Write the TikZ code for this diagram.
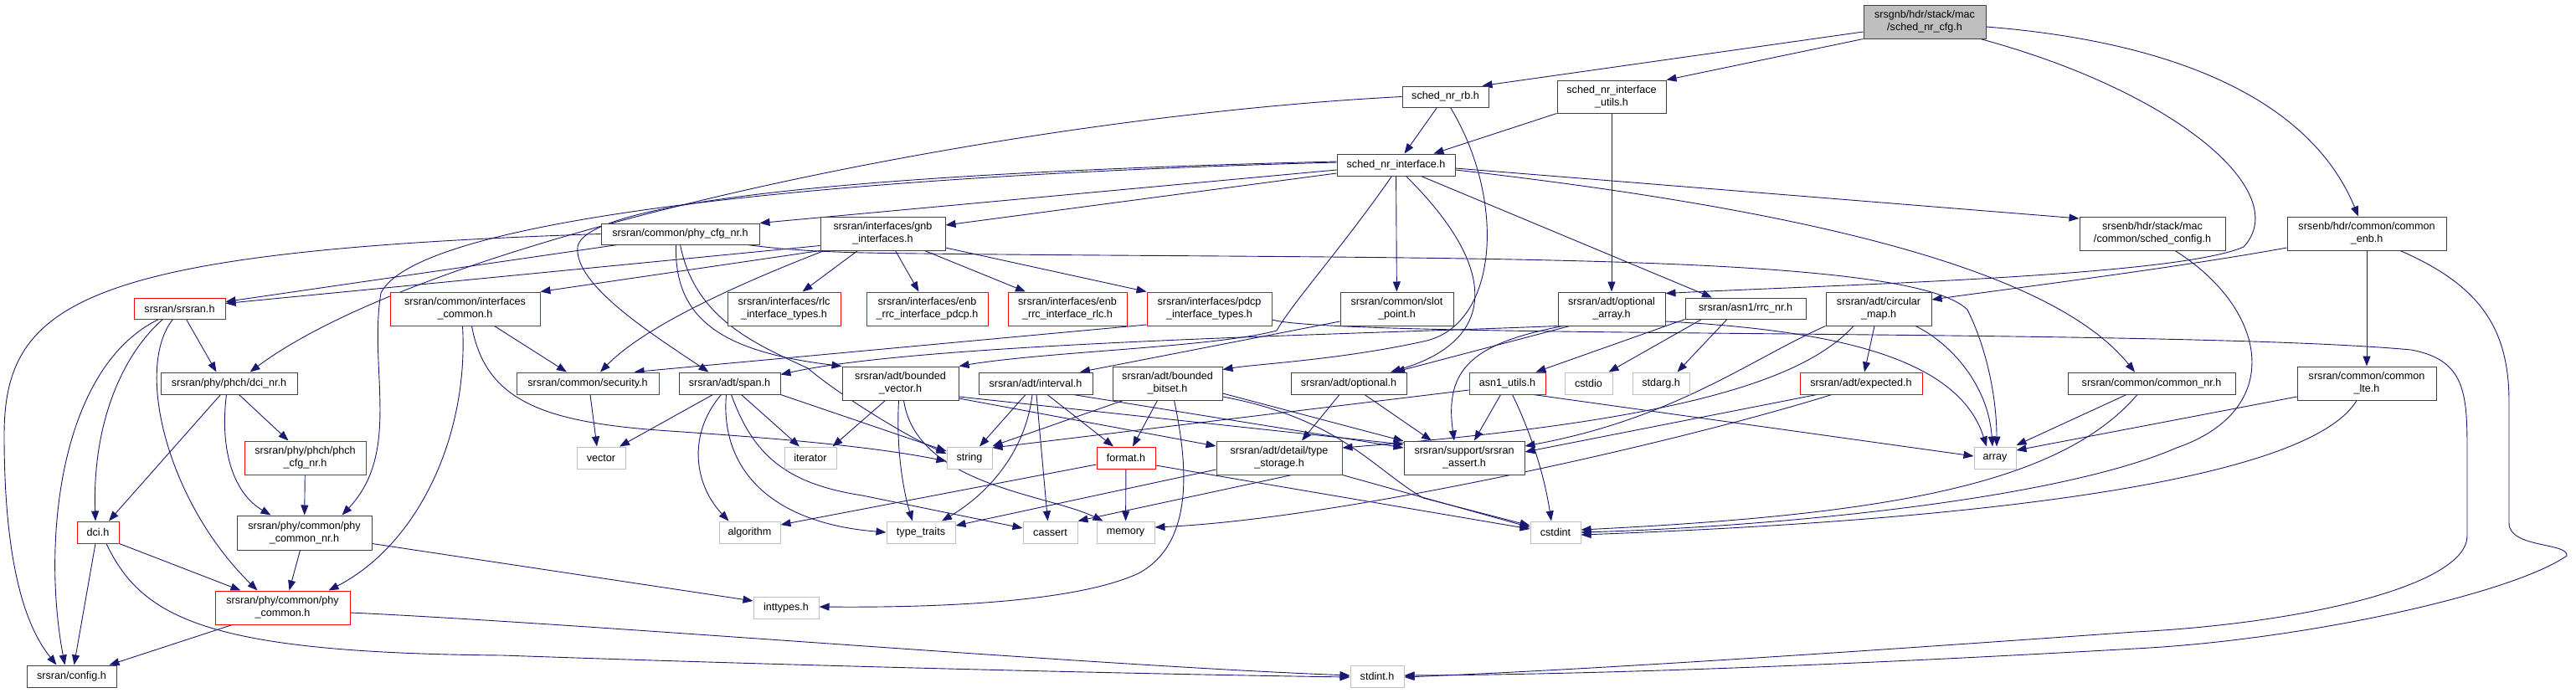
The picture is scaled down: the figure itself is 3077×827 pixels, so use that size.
\documentclass[tikz,border=0pt]{standalone}
\usepackage{fontspec}
\setmainfont{Liberation Sans}
\usepackage{tikz}
\usetikzlibrary{arrows.meta,backgrounds}
\definecolor{edgec}{HTML}{191970}
\definecolor{boxc}{HTML}{404040}
\definecolor{truncc}{HTML}{FF0000}
\definecolor{sysc}{HTML}{BFBFBF}
\tikzset{
  ed/.style={-{Triangle[length=12pt,width=9pt]},line width=0.9pt,edgec},
  hd/.style={draw=boxc,line width=1pt,fill=white,align=center,inner sep=0pt,font=\fontsize{12.6}{15}\selectfont},
  hdt/.style={hd,draw=truncc},
  sy/.style={hd,draw=sysc},
  rt/.style={hd,fill=sysc},
  sz/.style 2 args={minimum width=#1,minimum height=#2}
}

\begin{document}
\begin{tikzpicture}[x=1pt,y=-1pt]
\useasboundingbox (0,0) rectangle (3077,827);
% nodes
\node[rt,sz={146}{40}] (root) at (2299,26) {srsgnb/hdr/stack/mac\\/sched\_nr\_cfg.h};
\node[hd,sz={103}{25}] (rb) at (1726.5,115.5) {sched\_nr\_rb.h};
\node[hd,sz={130}{39}] (utils) at (1925,115.5) {sched\_nr\_interface\\\_utils.h};
\node[hd,sz={141}{26}] (snri) at (1667.5,197) {sched\_nr\_interface.h};
\node[hd,sz={189}{25}] (phycfg) at (812.5,279.5) {srsran/common/phy\_cfg\_nr.h};
\node[hd,sz={149}{40}] (gnb) at (1054.5,279) {srsran/interfaces/gnb\\\_interfaces.h};
\node[hd,sz={174}{40}] (schedcfg) at (2571,279) {srsenb/hdr/stack/mac\\/common/sched\_config.h};
\node[hd,sz={190}{40}] (comenb) at (2827,279) {srsenb/hdr/common/common\\\_enb.h};
\node[hdt,sz={109}{25}] (srsranh) at (214.5,368.5) {srsran/srsran.h};
\node[hdt,sz={179}{40}] (ifcommon) at (555.5,369) {srsran/common/interfaces\\\_common.h};
\node[hdt,sz={135}{40}] (rlc) at (936.5,369) {srsran/interfaces/rlc\\\_interface\_types.h};
\node[hdt,sz={145}{40}] (enbpdcp) at (1107.5,369) {srsran/interfaces/enb\\\_rrc\_interface\_pdcp.h};
\node[hdt,sz={142}{40}] (enbrlc) at (1275,369) {srsran/interfaces/enb\\\_rrc\_interface\_rlc.h};
\node[hdt,sz={149}{40}] (pdcp) at (1444.5,369) {srsran/interfaces/pdcp\\\_interface\_types.h};
\node[hd,sz={135}{40}] (slot) at (1668.5,369) {srsran/common/slot\\\_point.h};
\node[hd,sz={128}{40}] (optarr) at (1925,369) {srsran/adt/optional\\\_array.h};
\node[hd,sz={144}{25}] (rrcnr) at (2085,368.5) {srsran/asn1/rrc\_nr.h};
\node[hd,sz={126}{40}] (circ) at (2244,369) {srsran/adt/circular\\\_map.h};
\node[hd,sz={163}{26}] (dcinr) at (273.5,458) {srsran/phy/phch/dci\_nr.h};
\node[hdt,sz={170}{26}] (security) at (702,458) {srsran/common/security.h};
\node[hd,sz={121}{26}] (span) at (871.5,458) {srsran/adt/span.h};
\node[hd,sz={139}{40}] (bvec) at (1075.5,458) {srsran/adt/bounded\\\_vector.h};
\node[hd,sz={136}{26}] (interval) at (1237,458) {srsran/adt/interval.h};
\node[hd,sz={131}{40}] (bbitset) at (1394.5,458) {srsran/adt/bounded\\\_bitset.h};
\node[hd,sz={138}{26}] (optional) at (1611,458) {srsran/adt/optional.h};
\node[hdt,sz={91}{26}] (asn1) at (1800.5,458) {asn1\_utils.h};
\node[sy,sz={57}{26}] (cstdio) at (1897.5,458) {cstdio};
\node[sy,sz={68}{26}] (stdarg) at (1984,458) {stdarg.h};
\node[hdt,sz={146}{26}] (expected) at (2223,458) {srsran/adt/expected.h};
\node[hd,sz={200}{26}] (comnr) at (2570,458) {srsran/common/common\_nr.h};
\node[hd,sz={166}{40}] (comlte) at (2827,458) {srsran/common/common\\\_lte.h};
\node[hdt,sz={145}{40}] (phchcfg) at (364.5,547) {srsran/phy/phch/phch\\\_cfg\_nr.h};
\node[sy,sz={58}{26}] (vector) at (718,547) {vector};
\node[sy,sz={62}{26}] (iterator) at (968,547) {iterator};
\node[sy,sz={54}{26}] (string) at (1158,547) {string};
\node[hdt,sz={70}{26}] (format) at (1345,547) {format.h};
\node[hdt,sz={150}{40}] (tstorage) at (1528,547) {srsran/adt/detail/type\\\_storage.h};
\node[hd,sz={144}{40}] (assert) at (1749,547) {srsran/support/srsran\\\_assert.h};
\node[sy,sz={50}{26}] (array) at (2383,547) {array};
\node[hdt,sz={50}{26}] (dci) at (117,636) {dci.h};
\node[hd,sz={161}{41}] (phycomnr) at (363.5,636.5) {srsran/phy/common/phy\\\_common\_nr.h};
\node[sy,sz={73}{26}] (algorithm) at (895.5,636) {algorithm};
\node[sy,sz={82}{26}] (typetraits) at (1100,636) {type\_traits};
\node[sy,sz={65}{26}] (cassert) at (1254.5,636) {cassert};
\node[sy,sz={69}{26}] (memory) at (1344.5,636) {memory};
\node[sy,sz={60}{26}] (cstdint) at (1858,636) {cstdint};
\node[hdt,sz={161}{40}] (phycom) at (337.5,726) {srsran/phy/common/phy\\\_common.h};
\node[sy,sz={78}{26}] (inttypes) at (939,726) {inttypes.h};
\node[hd,sz={107}{26}] (config) at (85.5,808) {srsran/config.h};
\node[sy,sz={64}{26}] (stdinth) at (1645,808) {stdint.h};
% edges
\begin{scope}[on background layer]
\draw[ed] ([yshift=-12pt]root.west) -- ([xshift=-8pt]rb.north east);
\draw[ed] (root.south west) -- (utils.north east);
\draw[ed] ([yshift=-6pt]root.east) .. controls (2600,50) and (2760,120) .. ([xshift=-10pt]comenb.north);
\draw[ed] ([xshift=-7pt]root.south east) .. controls (2600,110) and (2740,230) .. (2680,295) .. controls (2600,330) and (2200,340) .. ([yshift=-2pt]optarr.north east);
\draw[ed] (utils.south west) -- ([xshift=45pt]snri.north);
\draw[ed] (utils) -- (optarr);
\draw[ed] ([xshift=-10pt]rb.south) -- ([xshift=10pt]snri.north);
\draw[ed] ([xshift=6pt]rb.south) .. controls (1800,240) and (1790,390) .. (1700,408) .. controls (1600,430) and (1500,435) .. ([yshift=-4pt]bbitset.north east);
\draw[ed] (rb.west) .. controls (1200,140) and (520,280) .. ([xshift=25pt]dcinr.north);
\draw[ed] ([yshift=-6pt]snri.west) -- (phycfg.north east);
\draw[ed] ([yshift=-10pt]snri.west) -- ([yshift=10pt]gnb.east);
\draw[ed] ([yshift=-4pt]snri.east) -- ([yshift=18pt]schedcfg.west);
\draw[ed] ([yshift=-6pt]snri.east) .. controls (2150,250) and (2450,320) .. ([xshift=-20pt]comnr.north);
\draw[ed] (snri) -- (slot);
\draw[ed] ([xshift=30pt]snri.south) -- ([xshift=-40pt]rrcnr.north);
\draw[ed] ([xshift=12pt]snri.south) .. controls (1800,330) and (1780,410) .. ([xshift=50pt]optional.north);
\draw[ed] ([yshift=4pt]snri.west) .. controls (1100,205) and (700,235) .. (690,295) .. controls (685,340) and (780,400) .. ([xshift=-25pt]span.north);
\draw[ed] ([xshift=-5pt]snri.south) .. controls (1600,300) and (1545,360) .. (1525,395) .. controls (1450,415) and (1250,420) .. (bvec.north east);
\draw[ed] ([yshift=3pt]snri.west) .. controls (1000,210) and (500,260) .. (455,350) .. controls (440,440) and (480,540) .. ([xshift=45pt]phycomnr.north);
\draw[ed] ([xshift=-75pt]phycfg.south) -- ([yshift=8pt]srsranh.east);
\draw[ed] (phycfg.west) .. controls (100,300) and (5,360) .. (5,520) .. controls (5,700) and (40,760) .. ([xshift=-18pt]config.north);
\draw[ed] ([xshift=-5pt]phycfg.south) .. controls (805,380) and (860,420) .. (bvec.north west);
\draw[ed] (phycfg.south) .. controls (830,380) and (900,410) .. (965,440) .. controls (1000,470) and (1080,520) .. ([yshift=5pt]string.west);
\draw[ed] ([xshift=-15pt]phycfg.south east) .. controls (950,300) and (1000,302) .. (1100,303) .. controls (1700,310) and (2280,300) .. (2350,370) .. controls (2375,420) and (2385,480) .. ([xshift=2pt]array.north);
\draw[ed] ([yshift=6pt]gnb.south west) -- ([yshift=6pt]srsranh.east);
\draw[ed] (gnb.south west) -- (ifcommon.north east);
\draw[ed] ([xshift=-30pt]gnb.south) -- ([xshift=22pt]rlc.north);
\draw[ed] ([xshift=15pt]gnb.south) -- ([xshift=-10pt]enbpdcp.north);
\draw[ed] ([xshift=50pt]gnb.south) -- ([xshift=-50pt]enbrlc.north);
\draw[ed] ([yshift=-17pt]gnb.east) -- (pdcp.north west);
\draw[ed] ([xshift=5pt]gnb.south west) .. controls (880,340) and (770,390) .. ([xshift=15pt]security.north);
\draw[ed] ([xshift=8pt]srsranh.south) -- ([xshift=-15pt]dcinr.north);
\draw[ed] ([xshift=-20pt]srsranh.south) .. controls (150,420) and (110,500) .. ([xshift=-3pt]dci.north);
\draw[ed] ([xshift=-25pt]srsranh.south) .. controls (70,440) and (50,650) .. ([xshift=-8pt]config.north);
\draw[ed] ([xshift=-8pt]srsranh.south) .. controls (160,440) and (200,600) .. ([xshift=-30pt]phycom.north);
\draw[ed] ([xshift=-10pt]dcinr.south) -- ([xshift=13pt]dci.north);
\draw[ed] ([xshift=12pt]dcinr.south) -- ([xshift=-20pt]phchcfg.north);
\draw[ed] ([xshift=-3pt]dcinr.south) .. controls (262,540) and (280,590) .. ([xshift=-40pt]phycomnr.north);
\draw[ed] (phchcfg) -- (phycomnr);
\draw[ed] (dci.south east) -- ([xshift=-50pt]phycom.north);
\draw[ed] ([xshift=-3pt]dci.south) -- ([xshift=3pt]config.north);
\draw[ed] ([xshift=10pt]dci.south) .. controls (170,740) and (250,780) .. (600,783) .. controls (1000,797) and (1400,806) .. ([yshift=-1pt]stdinth.west);
\draw[ed] ([xshift=-5pt]phycomnr.south) -- ([xshift=8pt]phycom.north);
\draw[ed] ([yshift=-13pt]phycomnr.east) -- ([yshift=8pt]inttypes.west);
\draw[ed] ([xshift=-60pt]phycom.south) -- ([xshift=45pt]config.north);
\draw[ed] ([yshift=-6pt]phycom.east) .. controls (700,745) and (1300,795) .. ([yshift=1pt]stdinth.west);
\draw[ed] ([xshift=3pt]security.south) -- ([xshift=-5pt]vector.north);
\draw[ed] ([xshift=35pt]ifcommon.south) -- ([xshift=-25pt]security.north);
\draw[ed] ([xshift=-3pt]ifcommon.south) .. controls (560,520) and (500,650) .. ([xshift=55pt]phycom.north);
\draw[ed] ([xshift=8pt]ifcommon.south) .. controls (580,480) and (650,505) .. (800,515) .. controls (950,525) and (1050,535) .. ([yshift=-4pt]string.west);
\draw[ed] ([yshift=-19pt]pdcp.west) -- ([xshift=-30pt]security.north east);
\draw[ed] ([yshift=-13pt]pdcp.east) .. controls (1600,405) and (2600,392) .. (2880,418) .. controls (2945,430) and (2947,470) .. (2947,540) -- (2947,640) .. controls (2947,700) and (2750,745) .. (2550,755) .. controls (2200,780) and (1900,800) .. ([yshift=-1pt]stdinth.east);
\draw[ed] ([yshift=-15pt]slot.west) -- ([xshift=53pt]interval.north);
\draw[ed] ([xshift=-50pt]optarr.south) -- ([xshift=55pt]optional.north);
\draw[ed] ([xshift=-58pt]optarr.south) .. controls (1760,410) and (1725,440) .. ([xshift=-12pt]assert.north);
\draw[ed] (optarr.south west) .. controls (1600,400) and (1100,410) .. ([yshift=-3pt]span.north east);
\draw[ed] ([yshift=-15pt]optarr.east) .. controls (2200,395) and (2340,430) .. ([xshift=-10pt]array.north);
\draw[ed] (rrcnr.south west) -- ([xshift=-12pt]asn1.north east);
\draw[ed] ([xshift=20pt]rrcnr.south west) -- ([xshift=-5pt]cstdio.north east);
\draw[ed] ([xshift=-22pt]rrcnr.south) -- ([xshift=-15pt]stdarg.north east);
\draw[ed] ([xshift=-8pt]asn1.south) -- ([xshift=12pt]assert.north);
\draw[ed] ([xshift=6pt]asn1.south) .. controls (1830,520) and (1845,570) .. ([xshift=-5pt]cstdint.north);
\draw[ed] ([xshift=-15pt]asn1.south east) -- ([yshift=2pt]array.west);
\draw[ed] ([yshift=-8pt]asn1.west) -- ([yshift=12pt]string.east);
\draw[ed] ([xshift=-5pt]circ.south) -- ([xshift=4pt]expected.north);
\draw[ed] (circ.south west) .. controls (2090,430) and (2000,500) .. ([yshift=14pt]assert.east);
\draw[ed] ([xshift=-30pt]circ.south) .. controls (2150,460) and (1980,505) .. ([yshift=12pt]tstorage.east);
\draw[ed] ([xshift=44pt]circ.south) .. controls (2330,410) and (2375,460) .. ([xshift=-3pt]array.north);
\draw[ed] ([xshift=-53pt]expected.south) -- ([yshift=7pt]assert.east);
\draw[ed] ([xshift=-35pt]expected.south) .. controls (2000,530) and (1600,620) .. ([yshift=6pt]memory.east);
\draw[ed] ([yshift=-14pt]tstorage.west) -- ([yshift=8pt]typetraits.east);
\draw[ed] ([xshift=15pt]tstorage.south) -- (cassert.north east);
\draw[ed] (tstorage.south east) -- ([yshift=6pt]cstdint.west);
\draw[ed] ([xshift=-11pt]optional.south) -- ([xshift=27pt]tstorage.north);
\draw[ed] ([xshift=19pt]optional.south) -- ([xshift=-39pt]assert.north);
\draw[ed] ([xshift=-18pt]bvec.south) -- ([xshift=-5pt]iterator.north east);
\draw[ed] ([xshift=-2pt]bvec.south) .. controls (1070,540) and (1080,590) .. ([xshift=-10pt]typetraits.north);
\draw[ed] ([xshift=4pt]bvec.south) .. controls (1095,580) and (1250,590) .. ([xshift=-27pt]memory.north);
\draw[ed] ([yshift=-18pt]bvec.east) -- ([yshift=14pt]tstorage.west);
\draw[ed] ([yshift=-16pt]bvec.east) -- ([yshift=16pt]assert.west);
\draw[ed] ([xshift=-12pt]interval.south) -- ([xshift=12pt]string.north);
\draw[ed] ([xshift=-4pt]interval.south) .. controls (1225,540) and (1180,590) .. ([xshift=25pt]typetraits.north);
\draw[ed] ([xshift=1pt]interval.south) -- ([xshift=-3pt]cassert.north);
\draw[ed] ([xshift=14pt]interval.south) -- ([xshift=-15pt]format.north);
\draw[ed] ([xshift=45pt]interval.south) -- ([yshift=12pt]assert.west);
\draw[ed] ([xshift=-53pt]bbitset.south) -- ([yshift=14pt]string.east);
\draw[ed] ([xshift=-12pt]bbitset.south) -- ([xshift=8pt]format.north);
\draw[ed] ([xshift=8pt]bbitset.south) .. controls (1420,560) and (1425,650) .. (1360,685) .. controls (1280,722) and (1100,726) .. ([yshift=1pt]inttypes.east);
\draw[ed] ([yshift=-12pt]bbitset.east) -- ([yshift=20pt]assert.west);
\draw[ed] ([yshift=-16pt]bbitset.east) .. controls (1600,500) and (1640,560) .. (1700,595) -- ([yshift=8pt]cstdint.west);
\draw[ed] (format) -- (memory);
\draw[ed] ([yshift=-8pt]format.west) -- ([yshift=9pt]algorithm.east);
\draw[ed] ([yshift=-9pt]format.east) -- ([yshift=4pt]cstdint.west);
\draw[ed] ([xshift=-20pt]span.south) -- ([xshift=22pt]vector.north);
\draw[ed] ([xshift=14pt]span.south) -- ([xshift=-13pt]iterator.north);
\draw[ed] ([xshift=-10pt]span.south) .. controls (820,520) and (830,580) .. ([xshift=-25pt]algorithm.north);
\draw[ed] ([xshift=-4pt]span.south) .. controls (860,560) and (920,625) .. (typetraits.west);
\draw[ed] ([xshift=2pt]span.south) .. controls (900,545) and (940,578) .. (1030,592) -- ([yshift=5pt]cassert.west);
\draw[ed] (span.south east) -- ([yshift=8pt]string.west);
\draw[ed] ([xshift=-30pt]comnr.south) -- ([yshift=15pt]array.east);
\draw[ed] ([xshift=-17pt]comnr.south) .. controls (2460,580) and (2250,615) .. ([yshift=3pt]cstdint.east);
\draw[ed] ([yshift=-16pt]comlte.west) -- ([yshift=9pt]array.east);
\draw[ed] ([xshift=-12pt]comlte.south) .. controls (2760,570) and (2400,620) .. ([yshift=-3pt]cstdint.east);
\draw[ed] ([xshift=27pt]schedcfg.south) .. controls (2710,370) and (2730,490) .. (2600,535) .. controls (2450,600) and (2100,630) .. (cstdint.east);
\draw[ed] ([yshift=-17pt]comenb.west) .. controls (2600,320) and (2400,345) .. ([yshift=11pt]circ.east);
\draw[ed] (comenb) -- (comlte);
\draw[ed] ([xshift=40pt]comenb.south) .. controls (2960,340) and (2997,390) .. (2997,480) -- (2997,625) .. controls (2997,655) and (3068,648) .. (3066,664) .. controls (3000,710) and (2750,765) .. (2550,775) .. controls (2200,795) and (1900,806) .. ([yshift=1pt]stdinth.east);
\end{scope}
\end{tikzpicture}
\end{document}
